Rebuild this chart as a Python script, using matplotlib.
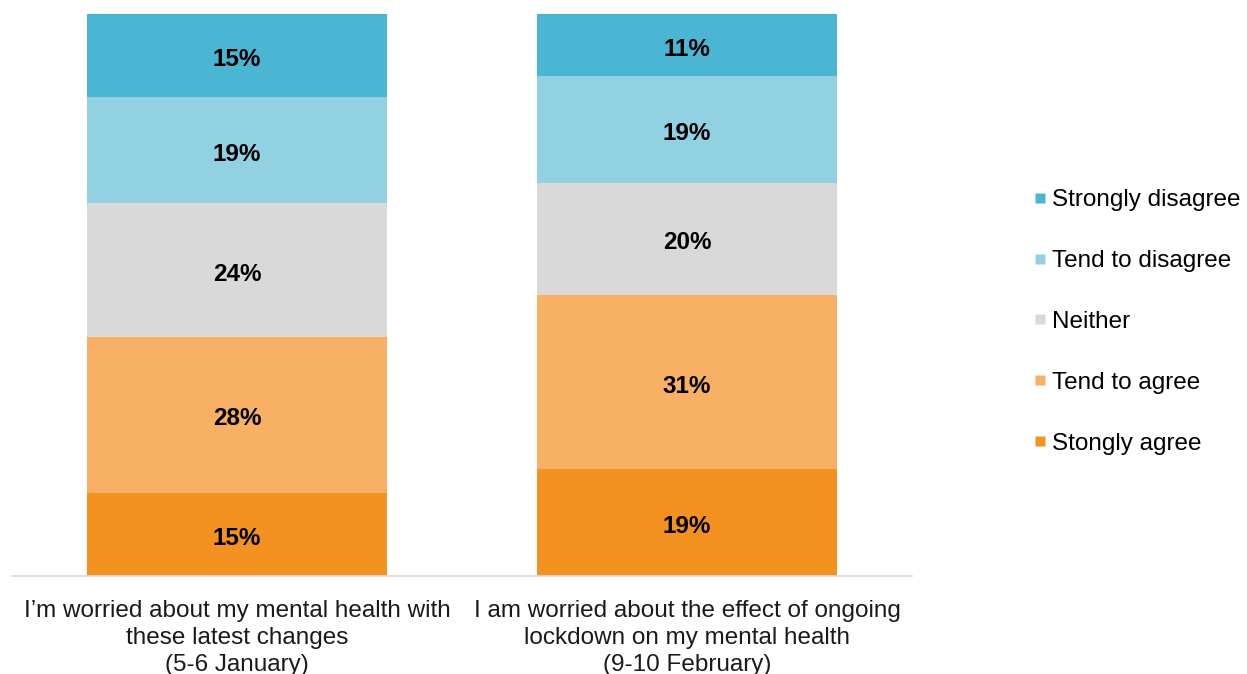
import matplotlib.pyplot as plt
from matplotlib.lines import Line2D
import numpy as np

plt.rcParams.update({
    "font.family": ["Liberation Sans", "DejaVu Sans"],
    "font.size": 17.5,
})

# --- Data -------------------------------------------------------------------
questions = [
    "I\u2019m worried about my mental health with\nthese latest changes\n(5-6 January)",
    "I am worried about the effect of ongoing\nlockdown on my mental health\n(9-10 February)",
]
# bottom to top
categories = ["Stongly agree", "Tend to agree", "Neither",
              "Tend to disagree", "Strongly disagree"]
strongly_agree = [15, 19]
tend_agree = [28, 31]
neither = [24, 20]
tend_disagree = [19, 19]
strongly_disagree = [15, 11]

COLORS = ["#F39221", "#F7B064", "#D9D9D9", "#92D1E1", "#4BB6D3"]

# --- Plot -------------------------------------------------------------------
series = np.array([strongly_agree, tend_agree, neither,
                   tend_disagree, strongly_disagree], dtype=float)
shares = series / series.sum(axis=0) * 100   # 100% stacked

fig = plt.figure(figsize=(12.47, 6.74), dpi=100)
ax = fig.add_axes([12 / 1247, 1 - 576 / 674, 900 / 1247, 562 / 674])

x = np.arange(len(questions))
bottom = np.zeros(len(questions))
for vals, shown, color in zip(shares, series, COLORS):
    ax.bar(x, vals, bottom=bottom, width=0.667, color=color, edgecolor="none")
    for xi, b, v, s in zip(x, bottom, vals, shown):
        ax.annotate(f"{s:.0f}%", xy=(xi, b + v / 2), xytext=(0, -3),
                    textcoords="offset points", ha="center", va="center",
                    fontweight="bold", fontsize=17.5, color="black")
    bottom += vals

ax.set_xlim(-0.5, 1.5)
ax.set_ylim(0, 100)
ax.set_xticks(x)
ax.set_xticklabels(questions, linespacing=1.3)
ax.tick_params(axis="x", length=0, pad=17, labelsize=17.5, colors="#1a1a1a")
ax.set_yticks([])
for side in ["top", "right", "left"]:
    ax.spines[side].set_visible(False)
ax.spines["bottom"].set_color("#D9D9D9")
ax.spines["bottom"].set_linewidth(1.2)

handles = [Line2D([], [], marker="s", linestyle="none", markersize=7,
                  markerfacecolor=c, markeredgecolor="none")
           for c in COLORS[::-1]]
fig.legend(handles, categories[::-1], loc="center left",
           bbox_to_anchor=(1023 / 1247, 1 - 322 / 674), frameon=False,
           handlelength=0.6, handletextpad=0.2, labelspacing=1.6,
           fontsize=17.5, borderaxespad=0)

fig.savefig("out.png", dpi=100)
